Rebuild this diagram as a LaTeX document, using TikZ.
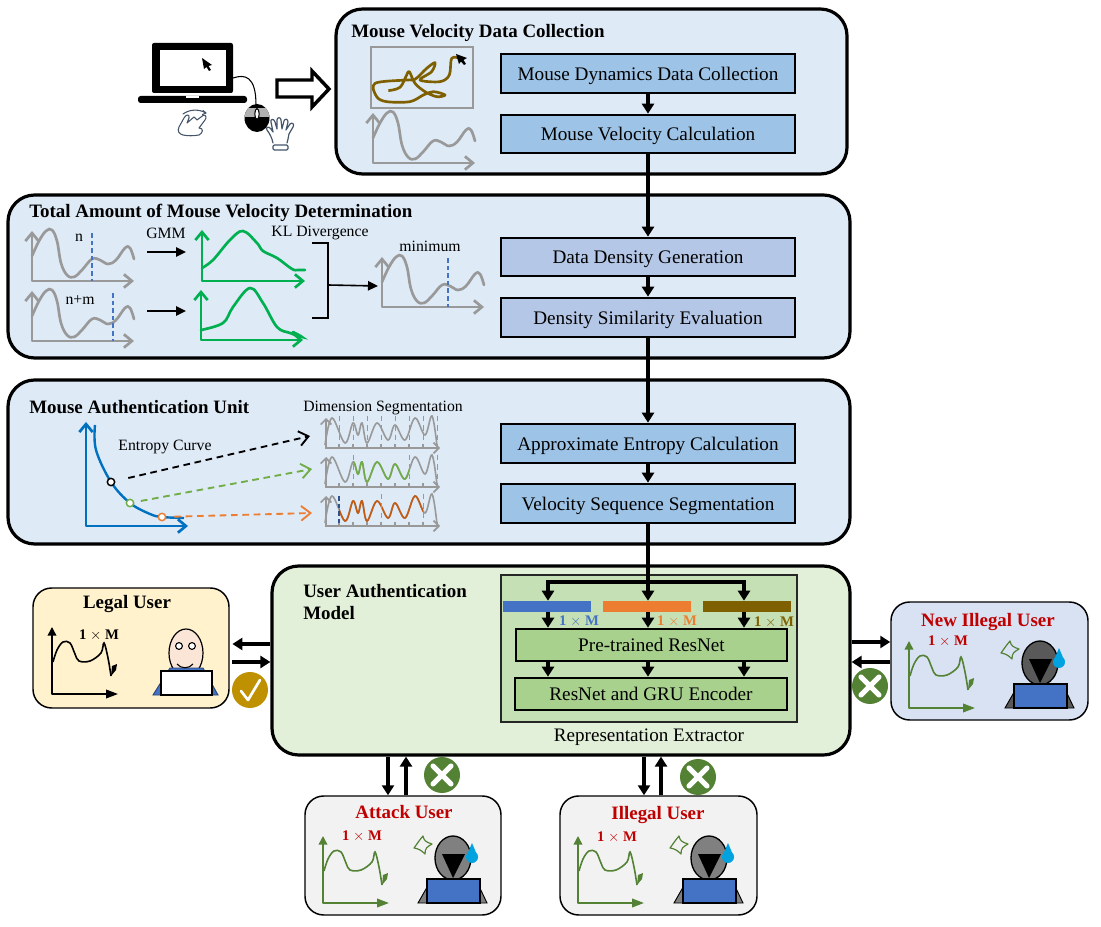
\documentclass[tikz,border=0pt]{standalone}
\usepackage{fontspec}
\setmainfont{Liberation Serif}
\usetikzlibrary{arrows.meta,calc}
\definecolor{panelblue}{HTML}{DEEAF6}
\definecolor{panelgreen}{HTML}{E2EFD9}
\definecolor{boxa}{HTML}{9DC3E6}
\definecolor{boxb}{HTML}{B4C7E7}
\definecolor{exfill}{HTML}{C5E0B4}
\definecolor{exbox}{HTML}{A9D18E}
\definecolor{cblue}{HTML}{4472C4}
\definecolor{corange}{HTML}{ED7D31}
\definecolor{cbrown}{HTML}{7F6000}
\definecolor{cgray}{HTML}{999999}
\definecolor{cgreen}{HTML}{00B050}
\definecolor{eblue}{HTML}{0070C0}
\definecolor{lgreen}{HTML}{70AD47}
\definecolor{dorange}{HTML}{C55A11}
\definecolor{ugreen}{HTML}{548235}
\definecolor{ured}{HTML}{C00000}
\definecolor{gold}{HTML}{BF9000}
\definecolor{slate}{HTML}{44546A}
\definecolor{legalfill}{HTML}{FFF2CC}
\definecolor{newfill}{HTML}{D9E2F3}
\definecolor{userfill}{HTML}{F2F2F2}
\definecolor{skin}{HTML}{FBE5D6}
\definecolor{drop}{HTML}{00A2E0}
\tikzset{
  wh/.style 2 args={minimum width=#1*0.75pt,minimum height=#2*0.75pt,inner sep=0pt},
  panel/.style={draw=black,line width=2.4pt,rounded corners=20pt,fill=panelblue},
  userbox/.style={draw=black,line width=1.1pt,rounded corners=14pt},
  flowbox/.style={draw=black,line width=2pt,font=\fontsize{14.4pt}{16pt}\selectfont,text height=11.4pt,text depth=1pt},
  ttl/.style={font=\bfseries\fontsize{14.2pt}{16.5pt}\selectfont,align=left,inner sep=0pt},
  lbl/.style={font=\fontsize{11.8pt}{13pt}\selectfont,inner sep=0pt,text height=8pt,text depth=0pt},
  utl/.style={font=\bfseries\fontsize{14.2pt}{15pt}\selectfont,inner sep=0pt,text height=9.2pt,text depth=0pt},
  mtl/.style={font=\bfseries\fontsize{11pt}{13pt}\selectfont,inner sep=0pt,text height=8pt,text depth=0pt},
  arr/.style={line width=2.6pt,-{Triangle[length=7.5pt,width=9pt]}},
  thin arr/.style={line width=1.2pt,-{Triangle[length=7.5pt,width=7pt]}},
  gaxis/.style={line width=2pt,{Straight Barb[length=6pt,width=10pt]}-{Straight Barb[length=6pt,width=10pt]},line join=round},
  gcurve/.style={line width=2pt,line cap=round},
  vdash/.style={line width=1pt,draw=cblue,dash pattern=on 3.5pt off 2.2pt},
  badge/.style={circle,minimum size=27pt,inner sep=0pt},
  ptdot/.style={circle,fill=white,line width=1.1pt,minimum size=5.5pt,inner sep=0pt},
  earr/.style={line width=1.4pt,dash pattern=on 5pt off 3.5pt,-{Straight Barb[length=7pt,width=11pt]}},
  segdash/.style={cgray,line width=0.7pt,dash pattern=on 4pt off 3pt},
}
\newcommand\velcurve[1]{\draw[gcurve,#1] plot[smooth,tension=0.65] coordinates {(0,-25)(7,-40)(14,-50)(20,-51)(25,-40)(29,-18)(35,-6)(42,-4)(50,-11)(60,-22)(68,-21)(76,-17)(84,-21)(93,-33)(98,-33)(102,-22)};}
\newcommand\velplot[3]{\begin{scope}[shift={(#1,#2)}]\draw[gaxis,cgray] (0,-50)--(0,0)--(102,0);\velcurve{cgray}#3\end{scope}}
\newcommand\segcurve[1]{\draw[line width=1.2pt,#1] plot[smooth,tension=0.6] coordinates {(0,-3)(7,-30)(20,-5)(28,-25)(33,-13)(37,-25)(42,-5)(52,-25)(63,-8)(70,-23)(80,-8)(90,-30)(100,-13)(107,-32)(112,-2)};}
\newcommand\segplot[2]{\begin{scope}[shift={(325,#1)}]
  \draw[line width=1.3pt,cgray,{Straight Barb[length=4pt,width=8pt]}-{Straight Barb[length=4pt,width=8pt]}] (1,-30)--(1,0)--(115,0);
  \foreach \t in {14,28,42,56,70,84,98,112}{\draw[cgray,line width=0.8pt] (\t,0)--(\t,-4);}
  \segcurve{cgray}#2\end{scope}}
\newcommand\segclip[3]{\begin{scope}\clip (#1,-40) rectangle (#2,5);\segcurve{#3}\end{scope}}
\newcommand\userplot[3]{\begin{scope}[shift={(#1,#2)}]
  \draw[#3,line width=1.2pt,{Triangle[length=6.5pt,width=6.5pt]}-{Triangle[length=9pt,width=6.5pt]},line join=round] (0,-67)--(0,0)--(66,0);
  \draw[#3,line width=1.2pt] plot[smooth,tension=0.6] coordinates {(1,-32)(5,-44)(11,-52)(18,-51)(23,-40)(27,-33)(38,-33)(49,-41)(52,-51)(56,-36)(59,-18)};
  \fill[#3] (59,-18)--(60,-28)--(65,-30)--(64,-24)--cycle;
\end{scope}}
\newcommand\darkuser[3]{\begin{scope}[shift={(#1,#2)}]
  \fill[#3,draw=black,line width=0.7pt] (-9,24)--(3,3)--(50,3)--(60,24)--cycle;
  \draw[fill=#3,line width=1pt] (26,-21) ellipse (18 and 22);
  \fill[black] (15,-25)--(38,-25)--(26,-1)--cycle;
  \draw[fill=cblue,line width=1.1pt] (0,0) rectangle (53,24);
  \fill[drop] (45,-36)--(39.5,-23)--(50.5,-23)--cycle;
  \fill[drop] (45,-22) circle (6);
  \draw[ugreen,line width=0.9pt,line join=round] (-4,-43)..controls (-3,-38) and (-1,-37)..(5,-35)..controls (0,-32) and (-2,-31)..(-2,-25)..controls (-6,-29) and (-8,-30)..(-13,-31)..controls (-10,-35) and (-9,-37)..(-4,-43)--cycle;
\end{scope}}
\begin{document}
\begin{tikzpicture}[x=0.75pt,y=-0.75pt]
\useasboundingbox (0,0) rectangle (1101,927);
% panels
\node[panel,wh={511}{165}] (p1) at (591.5,91.5) {};
\node[panel,wh={842}{163}] (p2) at (429,276.5) {};
\node[panel,wh={842}{164}] (p3) at (429,462) {};
\node[panel,fill=panelgreen,wh={578}{189}] (model) at (561,660.5) {};
\node[userbox,fill=legalfill,wh={196}{120}] (legal) at (131,648) {};
\node[userbox,fill=newfill,wh={197}{118}] (newill) at (989.5,661) {};
\node[userbox,fill=userfill,wh={196}{119}] (attack) at (403,855.5) {};
\node[userbox,fill=userfill,wh={197}{119}] (illegal) at (658.5,855.5) {};
% titles
\node[ttl,anchor=west] (t1) at (351,33) {Mouse Velocity Data Collection};
\node[ttl,anchor=west] (t2) at (29,213) {Total Amount of Mouse Velocity Determination};
\node[ttl,anchor=west] (t3) at (29,407) {Mouse Authentication Unit};
\node[ttl,anchor=north west] (t4) at (303,584) {User Authentication\\Model};
% flow boxes
\node[flowbox,fill=boxa,wh={294}{39}] (mdd) at (648,73.5) {Mouse Dynamics Data Collection};
\node[flowbox,fill=boxa,wh={294}{38}] (mvc) at (648,134) {Mouse Velocity Calculation};
\node[flowbox,fill=boxb,wh={294}{38}] (ddg) at (648,257) {Data Density Generation};
\node[flowbox,fill=boxb,wh={294}{39}] (dse) at (648,317.5) {Density Similarity Evaluation};
\node[flowbox,fill=boxa,wh={294}{39}] (aec) at (648,443.5) {Approximate Entropy Calculation};
\node[flowbox,fill=boxa,wh={294}{39}] (vss) at (648,503.5) {Velocity Sequence Segmentation};
% extractor
\node[draw=black!85,line width=1.1pt,fill=exfill,wh={296}{147}] (ext) at (649,648.5) {};
\node[flowbox,fill=exbox,wh={271}{32}] (ptr) at (651.5,645) {Pre-trained ResNet};
\node[flowbox,fill=exbox,wh={272}{32}] (gru) at (651,694) {ResNet and GRU Encoder};
\node[fill=cblue,wh={88}{11}] (b1) at (547,606.5) {};
\node[fill=corange,wh={88}{11}] (b2) at (647,606.5) {};
\node[fill=cbrown,wh={88}{11}] (b3) at (747,606.5) {};
\node[lbl,font=\fontsize{14.3pt}{16pt}\selectfont,text height=9pt] (rex) at (649,735) {Representation Extractor};
\node[mtl,text=cblue] (m1) at (579,620.5) {1 $\times$ M};
\node[mtl,text=corange] (m2) at (677,620) {1 $\times$ M};
\node[mtl,text=cbrown] (m3) at (774,621) {1 $\times$ M};
% flow connectors
\draw[arr] (mdd.south)--(mvc.north);
\draw[arr] (mvc.south)--(ddg.north);
\draw[arr] (ddg.south)--(dse.north);
\draw[arr] (dse.south)--(aec.north);
\draw[arr] (aec.south)--(vss.north);
\coordinate (br) at (648,582);
\coordinate (a1) at (548,0); \coordinate (a2) at (648,0); \coordinate (a3) at (744,0);
\draw[arr] (vss.south)--(a2 |- b2.north);
\draw[arr] (br)-|(a1 |- b1.north);
\draw[arr] (br)-|(a3 |- b3.north);
\foreach \a/\b in {a1/b1,a2/b2,a3/b3}{
  \draw[arr] (\a |- \b.south)--(\a |- ptr.north);
  \draw[arr] (\a |- ptr.south)--(\a |- gru.north);}
% user connectors
\coordinate (y1) at (0,644); \coordinate (y2) at (0,662);
\coordinate (y3) at (0,642);
\coordinate (x1) at (388,0); \coordinate (x2) at (406,0); \coordinate (x3) at (644,0); \coordinate (x4) at (661,0);
\draw[arr,shorten >=2pt] (model.west |- y1)--(legal.east |- y1);
\draw[arr,shorten <=2pt] (legal.east |- y2)--(model.west |- y2);
\draw[arr] (model.east |- y3)--(newill.west |- y3);
\draw[arr] (newill.west |- y2)--(model.east |- y2);
\draw[arr] (x1 |- model.south)--(x1 |- attack.north);
\draw[arr] (x2 |- attack.north)--(x2 |- model.south);
\draw[arr] (x3 |- model.south)--(x3 |- illegal.north);
\draw[arr] (x4 |- illegal.north)--(x4 |- model.south);
% badges
\node[badge,fill=gold] (okb) at (250,690) {};
\draw[white,line width=2pt,line cap=round,line join=round] (241,691)--(248,700)--(260,680);
\foreach \n/\x/\y in {xa/870/686,xb/442/775,xc/698/777}{
  \node[badge,fill=ugreen] (\n) at (\x,\y) {};
  \draw[white,line width=3.8pt,line cap=round] ($(\n)+(-9,-9)$)--($(\n)+(9,9)$);
  \draw[white,line width=3.8pt,line cap=round] ($(\n)+(9,-9)$)--($(\n)+(-9,9)$);}
% laptop
\fill[black,rounded corners=1.5pt] (152,43) rectangle (233,93);
\fill[white] (160,50) rectangle (226,86);
\fill[black,rounded corners=2pt] (138,96) rectangle (247,103);
\fill[white] (186,96) rectangle (199,98);
\fill[black] (202,58)--(212,65)--(208.5,66)--(211,70)--(209,71)--(206.5,67)--(204,69)--cycle;
\draw[line width=0.8pt] (233,78) .. controls (245,74) and (256,76) .. (256,105);
\begin{scope}
  \clip (257,118) ellipse (12.5 and 14);
  \fill[black] (244,104) rectangle (270,133);
  \fill[black!30] (244,108) rectangle (270,117);
\end{scope}
\draw[black,fill=white,line width=0.8pt] (257,114) ellipse (2.2 and 5.5);
% pointing hand
\begin{scope}[draw=slate,line width=0.8pt,line cap=round,line join=round]
\draw (183,114) .. controls (190,109) and (199,109) .. (206,113);
\draw (206,113)--(203,110.5) (206,113)--(202.5,114.5);
\draw (179,127) -- (184,118) .. controls (186,114) and (190,114) .. (189,118) -- (187,123)
  -- (194,117) -- (197,120) -- (203,115.5) .. controls (206,114) and (207,118) .. (205,120) -- (199,128)
  .. controls (204,128) and (203,133) .. (199,135) .. controls (193,136) and (188,136) .. (183,135) .. controls (179,134) and (177,131) .. (179,127) -- cycle;
\end{scope}
% glove
\begin{scope}[draw=slate,line width=0.9pt,line cap=round,line join=round]
\draw (273,143) .. controls (272,138) and (270,134) .. (267,130) .. controls (265,127) and (269,126) .. (271,129) -- (273,132)
  -- (271,122) .. controls (270,119) and (274,118) .. (275,122) -- (277,129)
  -- (277,120) .. controls (277,117) and (281,117) .. (281,120) -- (282,129)
  -- (284,121) .. controls (285,118) and (288,119) .. (288,122) -- (286,130)
  -- (290,124) .. controls (292,122) and (295,124) .. (293,127) -- (289,134) .. controls (288,138) and (288,141) .. (287,143);
\draw[rounded corners=1pt] (273,145) rectangle (288,150);
\end{scope}
% big arrow
\draw[line width=2.6pt,fill=white,miter limit=10] (277,80)--(312,80)--(312,71)--(329,89)--(312,107)--(312,97)--(277,97)--cycle;
% trace box
\draw[cgray,line width=1.8pt] (371,47) rectangle (473,108);
\begin{scope}[shift={(120,0)},x=0.25pt,y=-0.25pt]
\draw[cbrown,line width=2pt,line join=round] plot[smooth,tension=0.55] coordinates {(805,272)(840,262)(860,225)(868,215)(885,250)(915,275)(950,290)(975,285)(940,275)(910,285)(870,305)(800,305)(770,290)(765,250)(860,240)(885,238)(920,205)(945,188)(935,215)(900,240)(960,245)(988,225)(995,175)(1020,175)};
\end{scope}
\fill[black] (456,54)--(467,58)--(463.5,60)--(466,64)--(464,65)--(461,61.5)--(459,64)--cycle;
\velplot{373}{163}{}
% density panel
\velplot{32}{281}{\draw[vdash] (60,-48)--(60,0);}
\velplot{32}{341}{\draw[vdash] (81,-48)--(81,0);}
\velplot{382}{307}{\draw[vdash] (66,-49)--(66,0);}
\draw[cgreen,gaxis] (202,230)--(202,281)--(305,281);
\draw[cgreen,gaxis] (201,290)--(201,340)--(303,340);
\draw[cgreen,gcurve] plot[smooth,tension=0.6] coordinates {(202,268)(213,260)(230,240)(243,231)(257,243)(263,251)(277,258)(292,269)(298,270)(305,270)};
\draw[cgreen,gcurve] plot[smooth,tension=0.6] coordinates {(201,330)(223,323)(233,307)(250,288)(263,303)(277,327)(290,333)(302,337)(293,332)};
\node[lbl] (gmm) at (166,233) {GMM};
\node[lbl] (nn) at (79,236) {n};
\node[lbl] (nm) at (80,299) {n+m};
\node[lbl] (kl) at (320,231) {KL Divergence};
\node[lbl] (mn) at (430,246) {minimum};
\coordinate (g1s) at (147,252); \coordinate (g1e) at (186,252);
\coordinate (g2s) at (147,311); \coordinate (g2e) at (186,311);
\draw[thin arr] (g1s)--(g1e);
\draw[thin arr] (g2s)--(g2e);
\draw[line width=1.3pt] (312,243)-|(328,318)--(312,318);
\coordinate (klm) at (328,285); \coordinate (kle) at (378,286);
\draw[thin arr] (klm)--(kle);
% entropy panel
\draw[eblue,line width=2pt,{Straight Barb[length=6pt,width=10pt]}-{Straight Barb[length=6pt,width=10pt]},line join=round] (86,422)--(86,526)--(188,526);
\draw[eblue,line width=1.8pt] plot[smooth,tension=0.6] coordinates {(95,425)(96,450)(111,482)(130,503)(150,514)(162,517)(184,518)};
\node[lbl] (ec) at (165,445) {Entropy Curve};
\node[lbl] (ds) at (383,406) {Dimension Segmentation};
\node[ptdot,draw=black] (pa) at (111,482) {};
\node[ptdot,draw=lgreen] (pb) at (130,503) {};
\node[ptdot,draw=corange] (pc) at (162,517) {};
\coordinate (ea) at (310,436); \coordinate (eb) at (312,469); \coordinate (ec2) at (312,513);
\draw[earr,black,shorten <=10pt] (pa)--(ea);
\draw[earr,lgreen,shorten <=5pt] (pb)--(eb);
\draw[earr,corange,shorten <=6pt] (pc)--(ec2);
\segplot{448}{\foreach \t in {14,28,42,56,70,84,98,112}{\draw[segdash] (\t,-32)--(\t,0);}}
\segplot{487}{\segclip{28}{84}{lgreen}\foreach \t in {28,84,112}{\draw[segdash] (\t,-32)--(\t,0);}}
\segplot{526}{\segclip{14}{98}{dorange}\draw[vdash,draw=cblue!70!black] (14,-30)--(14,0);\foreach \t in {56,98}{\draw[segdash] (\t,-32)--(\t,0);}}
% users
\node[utl] (ul) at (127,602) {Legal User};
\node[mtl] (ml) at (99,634) {1 $\times$ M};
\userplot{52}{694}{black}
\draw[fill=skin,line width=0.9pt] (186,653) ellipse (17 and 24);
\draw[cblue!60!black,fill=cblue,line width=0.7pt] (153,695)--(170,668)--(203,668)--(218,695)--cycle;
\draw[fill=white,line width=1.1pt] (161,671) rectangle (212,695);
\draw[fill=white,line width=0.8pt] (179,646) circle (3.4);
\draw[fill=white,line width=0.8pt] (192,646) circle (3.4);
\draw[line width=0.8pt] (177,664) .. controls (181,669) and (189,669) .. (193,664);
\node[utl,text=ured] (un) at (988,620) {New Illegal User};
\node[mtl,text=ured] (mn2) at (948,640) {1 $\times$ M};
\userplot{909}{708}{ugreen}
\darkuser{1014}{684}{black!65}
\node[utl,text=ured] (ua) at (404,812) {Attack User};
\node[mtl,text=ured] (ma) at (362,835) {1 $\times$ M};
\userplot{323}{903}{ugreen}
\darkuser{427}{879}{black!50}
\node[utl,text=ured] (ui) at (658,813) {Illegal User};
\node[mtl,text=ured] (mi) at (617,836) {1 $\times$ M};
\userplot{578}{903}{ugreen}
\darkuser{683}{879}{black!50}
\end{tikzpicture}
\end{document}
